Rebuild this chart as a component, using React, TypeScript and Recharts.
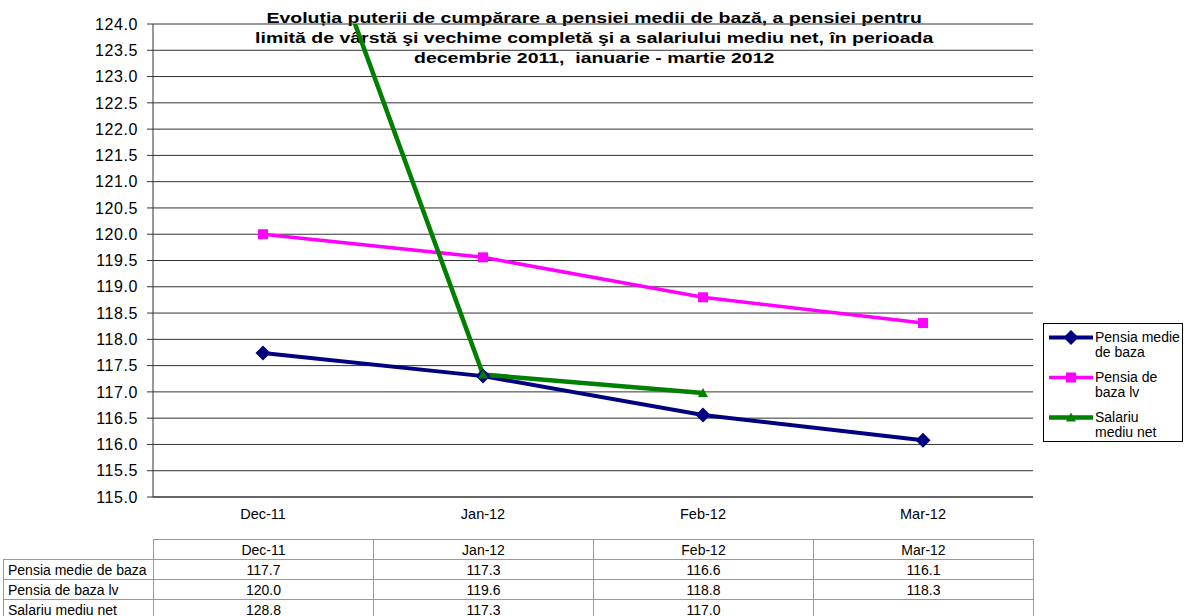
import React from 'react'
import { LineChart, Line, XAxis, YAxis, CartesianGrid } from 'recharts'

const categories = ['Dec-11', 'Jan-12', 'Feb-12', 'Mar-12']
const pensiaMedie = [117.74, 117.3, 116.56, 116.08]
const pensiaLv = [120.0, 119.56, 118.8, 118.31]
const salariuNet: (number | null)[] = [128.8, 117.33, 116.98, null]
const yTicks = [115, 115.5, 116, 116.5, 117, 117.5, 118, 118.5, 119, 119.5, 120, 120.5, 121, 121.5, 122, 122.5, 123, 123.5, 124]

const titleLines = [
  'Evoluția puterii de cumpărare a pensiei medii de bază, a pensiei pentru',
  'limită de vârstă şi vechime completă şi a salariului mediu net, în perioada',
  'decembrie 2011,  ianuarie - martie 2012',
]

const FONT = '"Liberation Sans", Arial, sans-serif'

const series = [
  { key: 'medie', name: 'Pensia medie de baza', legend: ['Pensia medie', 'de baza'], values: pensiaMedie, color: '#000080', width: 4, shape: 'diamond' },
  { key: 'lv', name: 'Pensia de baza lv', legend: ['Pensia de', 'baza lv'], values: pensiaLv, color: '#FF00FF', width: 3.5, shape: 'square' },
  { key: 'salariu', name: 'Salariu mediu net', legend: ['Salariu', 'mediu net'], values: salariuNet, color: '#008000', width: 4.5, shape: 'triangle' },
]

const chartData = categories.map((cat, i) => {
  const row: any = { cat }
  series.forEach(s => { row[s.key] = s.values[i] })
  return row
})

// marker drawn for both the chart and the legend
const marker = (shape: string, cx: number, cy: number, color: string, key?: any) => {
  if (shape === 'diamond') {
    const r = 7.5
    return <polygon key={key} points={`${cx},${cy - r} ${cx + r},${cy} ${cx},${cy + r} ${cx - r},${cy}`} fill={color} />
  }
  if (shape === 'square') {
    return <rect key={key} x={cx - 5} y={cy - 5} width={10} height={10} fill={color} />
  }
  return <polygon key={key} points={`${cx},${cy - 5} ${cx + 5},${cy + 4} ${cx - 5},${cy + 4}`} fill={color} />
}

const makeDot = (shape: string, color: string) => (props: any) => {
  const { cx, cy, index, value } = props
  if (cx == null || cy == null || value == null) return <g key={`e-${index}`} />
  return marker(shape, cx, cy, color, `d-${index}`)
}

const fmt = (v: number | null) => (v == null ? '' : v.toFixed(1))

const cellStyle: React.CSSProperties = {
  border: '1px solid #999',
  height: 19,
  padding: '0 4px',
  lineHeight: '18px',
  whiteSpace: 'nowrap',
  textAlign: 'center',
}

export default function App() {
  return (
    <div style={{ position: 'absolute', left: 0, top: 0, width: 1186, height: 616, background: '#fff', fontFamily: FONT, overflow: 'hidden' }}>
      {/* title sits under the svg so the green line crosses it */}
      <div style={{ position: 'absolute', left: 0, top: 8, width: 1186, textAlign: 'center', fontWeight: 'bold', fontSize: 14, lineHeight: '20px', color: '#000', transform: 'scaleX(1.39)', transformOrigin: '590px 0' }}>
        {titleLines.map((t, i) => (
          <div key={i} style={{ whiteSpace: 'pre' }}>{t}</div>
        ))}
      </div>

      <div style={{ position: 'absolute', left: 0, top: 0 }}>
        <LineChart width={1186} height={538} data={chartData} margin={{ top: 24, right: 153, bottom: 0, left: 0 }}>
          <CartesianGrid vertical={false} stroke="#333" />
          <XAxis
            xAxisId="b"
            type="number"
            domain={[0, 4]}
            ticks={[0, 1, 2, 3, 4]}
            tick={false}
            axisLine={false}
            tickSize={5}
            height={1}
            tickLine={{ stroke: '#333' }}
          />
          <XAxis
            dataKey="cat"
            padding={{ left: 110, right: 110 }}
            interval={0}
            tickLine={false}
            tickSize={0}
            tickMargin={12}
            height={40}
            axisLine={{ stroke: '#333' }}
            tick={{ fill: '#000', fontSize: 14.5, fontFamily: FONT }}
          />
          <YAxis
            domain={[115, 124]}
            ticks={yTicks}
            allowDataOverflow
            interval={0}
            width={153}
            tickSize={6}
            tickMargin={9}
            tickFormatter={(v: number) => v.toFixed(1)}
            axisLine={{ stroke: '#333' }}
            tickLine={{ stroke: '#333' }}
            tick={{ fill: '#000', fontSize: 16, fontFamily: FONT, letterSpacing: 0.6 }}
          />
          {series.map(s => (
            <Line
              key={s.key}
              dataKey={s.key}
              name={s.name}
              stroke={s.color}
              strokeWidth={s.width}
              dot={makeDot(s.shape, s.color)}
              activeDot={false}
              connectNulls={false}
              isAnimationActive={false}
            />
          ))}
        </LineChart>
      </div>

      {/* legend */}
      <div style={{ position: 'absolute', left: 1043, top: 323, width: 138, height: 111, border: '1px solid #000', background: '#fff', paddingTop: 6, boxSizing: 'content-box' }}>
        {series.map(s => (
          <div key={s.key} style={{ display: 'flex', alignItems: 'flex-start', height: 40 }}>
            <svg width={49} height={15} style={{ flex: 'none' }}>
              <line x1={5} y1={7.5} x2={49} y2={7.5} stroke={s.color} strokeWidth={s.width} />
              {marker(s.shape, 27, 7.5, s.color)}
            </svg>
            <div style={{ fontSize: 14, lineHeight: '15px', color: '#000', paddingLeft: 2, whiteSpace: 'nowrap' }}>
              {s.legend.map((l, i) => <div key={i}>{l}</div>)}
            </div>
          </div>
        ))}
      </div>

      {/* data table */}
      <table style={{ position: 'absolute', left: 3, top: 539, borderCollapse: 'collapse', tableLayout: 'fixed', fontSize: 14, color: '#000', fontFamily: FONT }}>
        <colgroup>
          <col style={{ width: 150 }} />
          {categories.map(c => <col key={c} style={{ width: 220 }} />)}
        </colgroup>
        <tbody>
          <tr>
            <td style={{ ...cellStyle, borderTop: 'none', borderLeft: 'none' }} />
            {categories.map(c => <td key={c} style={cellStyle}>{c}</td>)}
          </tr>
          {series.map(s => (
            <tr key={s.key}>
              <td style={{ ...cellStyle, textAlign: 'left' }}>{s.name}</td>
              {s.values.map((v, i) => <td key={i} style={cellStyle}>{fmt(v)}</td>)}
            </tr>
          ))}
        </tbody>
      </table>
    </div>
  )
}
